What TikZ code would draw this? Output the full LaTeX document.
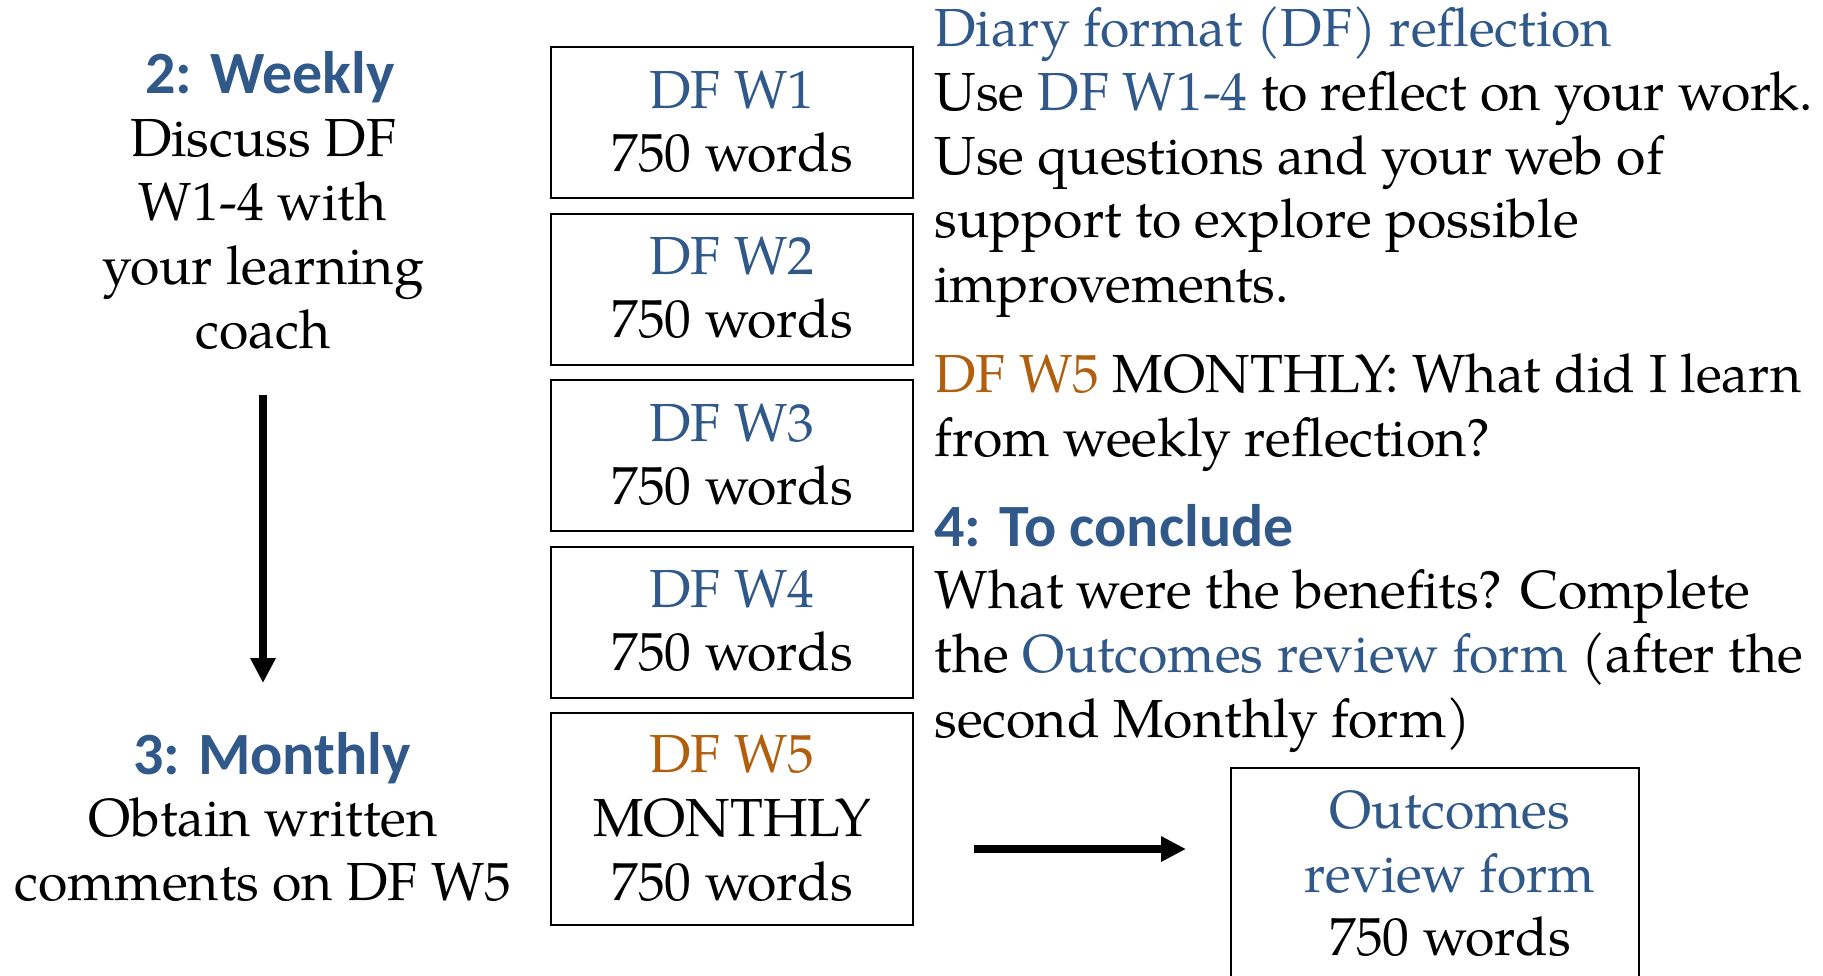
\documentclass[tikz,border=0pt]{standalone}
\usepackage{fontspec}
\setmainfont{TeX Gyre Pagella}
\newfontfamily\headfont{Carlito}
\usetikzlibrary{arrows.meta}

\definecolor{dfblue}{RGB}{48,89,138}
\definecolor{dforange}{RGB}{176,95,14}

\tikzset{
  body/.style={font=\fontsize{26.8pt}{32pt}\selectfont, inner sep=0pt},
  head/.style={font=\headfont\bfseries\fontsize{30pt}{36pt}\selectfont, text=dfblue, inner sep=0pt},
  wbox/.style={draw, line width=1pt, minimum width=181pt, minimum height=75.5pt, inner sep=0pt},
  bigarrow/.style={line width=4pt, -{Triangle[width=12pt,length=12.5pt]}},
}

\begin{document}
\begin{tikzpicture}[x=0.5pt,y=-0.5pt]
    \useasboundingbox (0,0) rectangle (1823,975);
    \clip (0,0) rectangle (1823,975);

    % left column
    \node[head, anchor=base] (weekly) at (270,93) {2: Weekly};
    \foreach \y/\txt [count=\i] in {156/{Discuss DF}, 220/{W1-4 with}, 284/{your learning}, 348/{coach}}
        \node[body, anchor=base] (wk\i) at (263,\y) {\txt};
    \coordinate (down1) at (263,395);
    \coordinate (down2) at (263,683);
    \draw[bigarrow] (down1) -- (down2);
    \node[head, anchor=base] (monthly) at (272,774) {3: Monthly};
    \node[body, anchor=base] (mo1) at (263,836) {Obtain written};
    \node[body, anchor=base] (mo2) at (263,900) {comments on DF W5};

    % weekly boxes
    \foreach \i in {1,...,4} {
        \pgfmathsetmacro{\top}{47+166.5*(\i-1)}
        \node[wbox] (w\i) at (732,\top+75.5) {};
        \node[body, anchor=base, text=dfblue] (w\i a) at (732,\top+61) {DF W\i};
        \node[body, anchor=base] (w\i b) at (732,\top+124) {750 words};
    }
    \node[wbox, minimum height=106pt] (w5) at (732,819) {};
    \node[body, anchor=base, text=dforange] (w5a) at (732,772) {DF W5};
    \node[body, anchor=base] (w5b) at (732,836) {MONTHLY};
    \node[body, anchor=base] (w5c) at (732,900) {750 words};

    % right column
    \foreach \y/\txt [count=\i] in {
        46.5/{\textcolor{dfblue}{Diary format (DF) reflection}},
        110/{Use \textcolor{dfblue}{DF W1-4} to reflect on your work.},
        174/{Use questions and your web of},
        237/{support to explore possible},
        302/{improvements.},
        392/{\textcolor{dforange}{DF W5} MONTHLY: What did I learn},
        456/{from weekly reflection?},
        608/{What were the benefits? Complete},
        672/{the \textcolor{dfblue}{Outcomes review form} (after the},
        737/{second Monthly form)}}
        \node[body, anchor=base west] (r\i) at (934,\y) {\txt};
    \node[head, anchor=base west] (conclude) at (934,546) {4: To conclude};

    % outcomes form
    \node[wbox, minimum width=204pt, minimum height=126pt] (out) at (1435,894) {};
    \node[body, anchor=base, text=dfblue] (out1) at (1450,828) {Outcomes};
    \node[body, anchor=base, text=dfblue] (out2) at (1450,892) {review form};
    \node[body, anchor=base] (out3) at (1450,955) {750 words};
    \coordinate (go1) at (974,849);
    \coordinate (go2) at (1186,849);
    \draw[bigarrow] (go1) -- (go2);
\end{tikzpicture}
\end{document}
